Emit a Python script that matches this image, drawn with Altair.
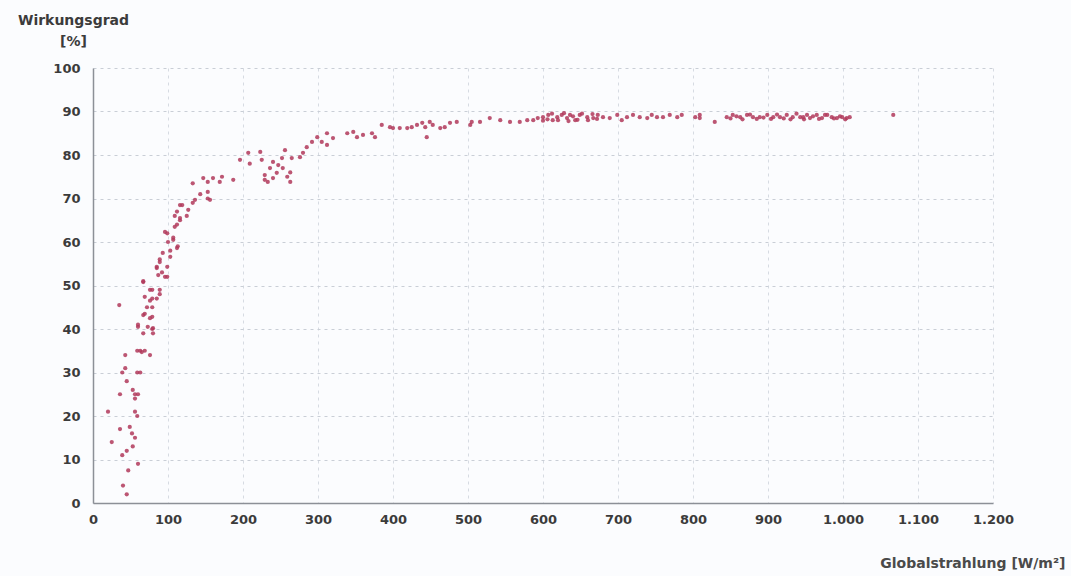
import altair as alt
import pandas as pd

# Efficiency (%) against global irradiance (W/m²), one point per measurement.

# Very low irradiance: steep, scattered start
low_x = [67, 80, 63, 69, 76, 43, 43, 39, 59, 63, 45, 36, 53, 56, 60, 56, 20, 56, 59, 36,
         49, 52, 56, 25, 53, 45, 39, 60, 47, 40, 45, 35, 60, 79, 59, 65, 72, 67, 79, 60,
         73, 69, 76, 80]
low_y = [39, 39, 35, 35, 34, 34, 31, 30, 30, 30, 28, 25, 26, 25, 25, 24, 21, 21, 20, 17,
         17.5, 16, 15, 14, 13, 12, 11, 9, 7.5, 4, 2, 45.5, 40.5, 40, 35, 34.7, 45, 43.2, 42.8, 41,
         40.5, 43.5, 42.5, 40.2]

# Rise between roughly 60 and 160 W/m²
rise_x = [116, 133, 153, 112, 116, 125, 109, 99, 107, 113, 103, 89, 85, 92, 99, 67, 79, 89, 85, 76,
          79, 133, 143, 153, 136, 156, 119, 127, 109, 116, 112, 96, 107, 100, 112, 93, 103, 89, 85, 99,
          87, 96, 67, 76, 89, 69, 79]
rise_y = [68.5, 69, 70, 67, 65, 66, 63.5, 62, 60.5, 59, 58, 56, 54, 53, 52, 51, 49, 48, 47, 46.5,
          45, 73.5, 71, 71.5, 69.7, 69.7, 68.5, 67.4, 66, 65.5, 64, 62.3, 61, 60, 58.6, 57.5, 56.6, 55.4, 54.3, 54.3,
          52.4, 52, 50.8, 49, 49, 47.4, 47]

# Knee between roughly 150 and 400 W/m²
knee_x = [147, 153, 160, 172, 169, 187, 196, 207, 209, 223, 225, 229, 229, 236, 240, 245, 247, 252, 253, 256,
          263, 265, 259, 233, 240, 276, 280, 263, 285, 292, 299, 305, 312, 312, 320, 339, 347, 352, 360, 372,
          376, 385, 396]
knee_y = [74.7, 73.8, 74.7, 75, 73.8, 74.3, 78.9, 80.5, 78, 80.7, 78.9, 75.4, 74.3, 77, 78.4, 75.9, 77.7, 79.3, 77, 81.1,
          76, 79.3, 75, 73.8, 74.7, 79.5, 80.5, 73.8, 81.8, 83, 84.1, 83, 85, 82.3, 83.9, 85, 85.3, 84.1, 84.6, 85,
          84.1, 86.9, 86.4]

# Plateau above 400 W/m²
plateau_x = [400, 409, 419, 425, 432, 439, 443, 445, 449, 453, 463, 469, 476, 485, 503, 505, 516, 529, 543, 556,
             569, 579, 587, 593, 600, 607, 613, 619, 625, 632, 636, 643, 649, 659, 667, 673, 680, 689, 699, 705,
             712, 720, 729, 739, 745, 752, 760, 769, 779, 785, 803, 809, 809, 829, 845, 853, 863, 872, 880, 889,
             899, 907, 916, 925, 933, 943, 952, 947, 956, 965, 972, 979, 985, 992, 999, 1005, 1009, 1067,
             600, 606, 612, 620, 628, 634, 640, 646, 652, 660, 666, 672,
             850, 858, 866, 876, 885, 894, 904, 912, 921, 930, 938, 948, 960, 968, 976, 988, 996, 1003]
plateau_y = [86.2, 86.2, 86.2, 86.4, 86.9, 87.4, 86.4, 84.1, 87.6, 86.9, 86.2, 86.4, 87.4, 87.6, 86.9, 87.6, 87.6, 88.5, 88, 87.6,
             87.6, 88, 88, 88.5, 88.7, 89.2, 88, 88.7, 89.2, 88.5, 89.2, 88, 89.2, 88.7, 88.5, 89.2, 88.7, 88.5, 89.2, 88,
             88.7, 89.2, 88.7, 88.5, 89.2, 88.7, 88.7, 89.2, 88.7, 89.2, 88.7, 89.2, 88.5, 87.6, 88.7, 89.2, 88.7, 89.2, 88.7, 88.7,
             89.2, 88.7, 88.7, 89.2, 88.7, 88.7, 89.2, 88.7, 88.5, 89.2, 88.5, 89.2, 88.7, 88.5, 88.7, 88.5, 88.7, 89.2,
             87.9, 88.2, 89.5, 88.0, 89.6, 87.8, 88.9, 88.1, 89.5, 88.0, 89.4, 88.3,
             88.4, 88.9, 88.2, 89.3, 88.3, 88.6, 88.3, 89.3, 88.4, 88.2, 89.5, 88.2, 88.9, 88.3, 89.2, 88.4, 88.9, 88.2]

x_ticks = list(range(0, 1201, 100))
y_ticks = list(range(0, 101, 10))

df = pd.DataFrame({
    "irr": low_x + rise_x + knee_x + plateau_x,
    "eff": low_y + rise_y + knee_y + plateau_y,
})

FONT = "DejaVu Sans"
TXT = "#3b3b3b"

x_axis = alt.Axis(
    values=x_ticks,
    labelExpr="replace(format(datum.value, ','), ',', '.')",
    title="Globalstrahlung [W/m²]",
    titleAlign="right",
    titleBaseline="middle",
    titleX=972,
    titleY=60,
    titleFont=FONT,
    titleFontSize=14,
    titleFontWeight="bold",
    titleColor="#4a4a4a",
    labelFont=FONT,
    labelFontSize=13,
    labelFontWeight="bold",
    labelColor=TXT,
    labelPadding=10,
    labelFlush=False,
    labelOverlap=False,
    ticks=False,
    grid=True,
    gridColor="#d6dbe2",
    gridDash=[3, 4],
    domainColor="#8c9097",
    domainWidth=1.5,
)

y_axis = alt.Axis(
    values=y_ticks,
    title=["Wirkungsgrad", "[%]"],
    titleAngle=0,
    titleAlign="center",
    titleBaseline="top",
    titleX=-20,
    titleY=-55,
    titleLineHeight=21,
    titleFont=FONT,
    titleFontSize=14,
    titleFontWeight="bold",
    titleColor=TXT,
    labelFont=FONT,
    labelFontSize=13,
    labelFontWeight="bold",
    labelColor=TXT,
    labelPadding=13,
    labelOverlap=False,
    ticks=False,
    grid=True,
    gridColor="#c9ced6",
    gridDash=[3, 4],
    domainColor="#8c9097",
    domainWidth=1.5,
)

chart = (
    alt.Chart(df)
    .mark_circle(size=18, color="#b0385a", opacity=0.85)
    .encode(
        x=alt.X("irr:Q", scale=alt.Scale(domain=[0, 1200], nice=False, zero=True), axis=x_axis),
        y=alt.Y("eff:Q", scale=alt.Scale(domain=[0, 100], nice=False), axis=y_axis),
    )
    .properties(
        width=900,
        height=435,
        autosize=alt.AutoSizeParams(type="none"),
        padding={"left": 93, "top": 68, "right": 78, "bottom": 73},
        background="#fbfcfe",
    )
    .configure_view(strokeWidth=0)
)

chart.save("out.html", embed_options={"renderer": "svg", "actions": False})
